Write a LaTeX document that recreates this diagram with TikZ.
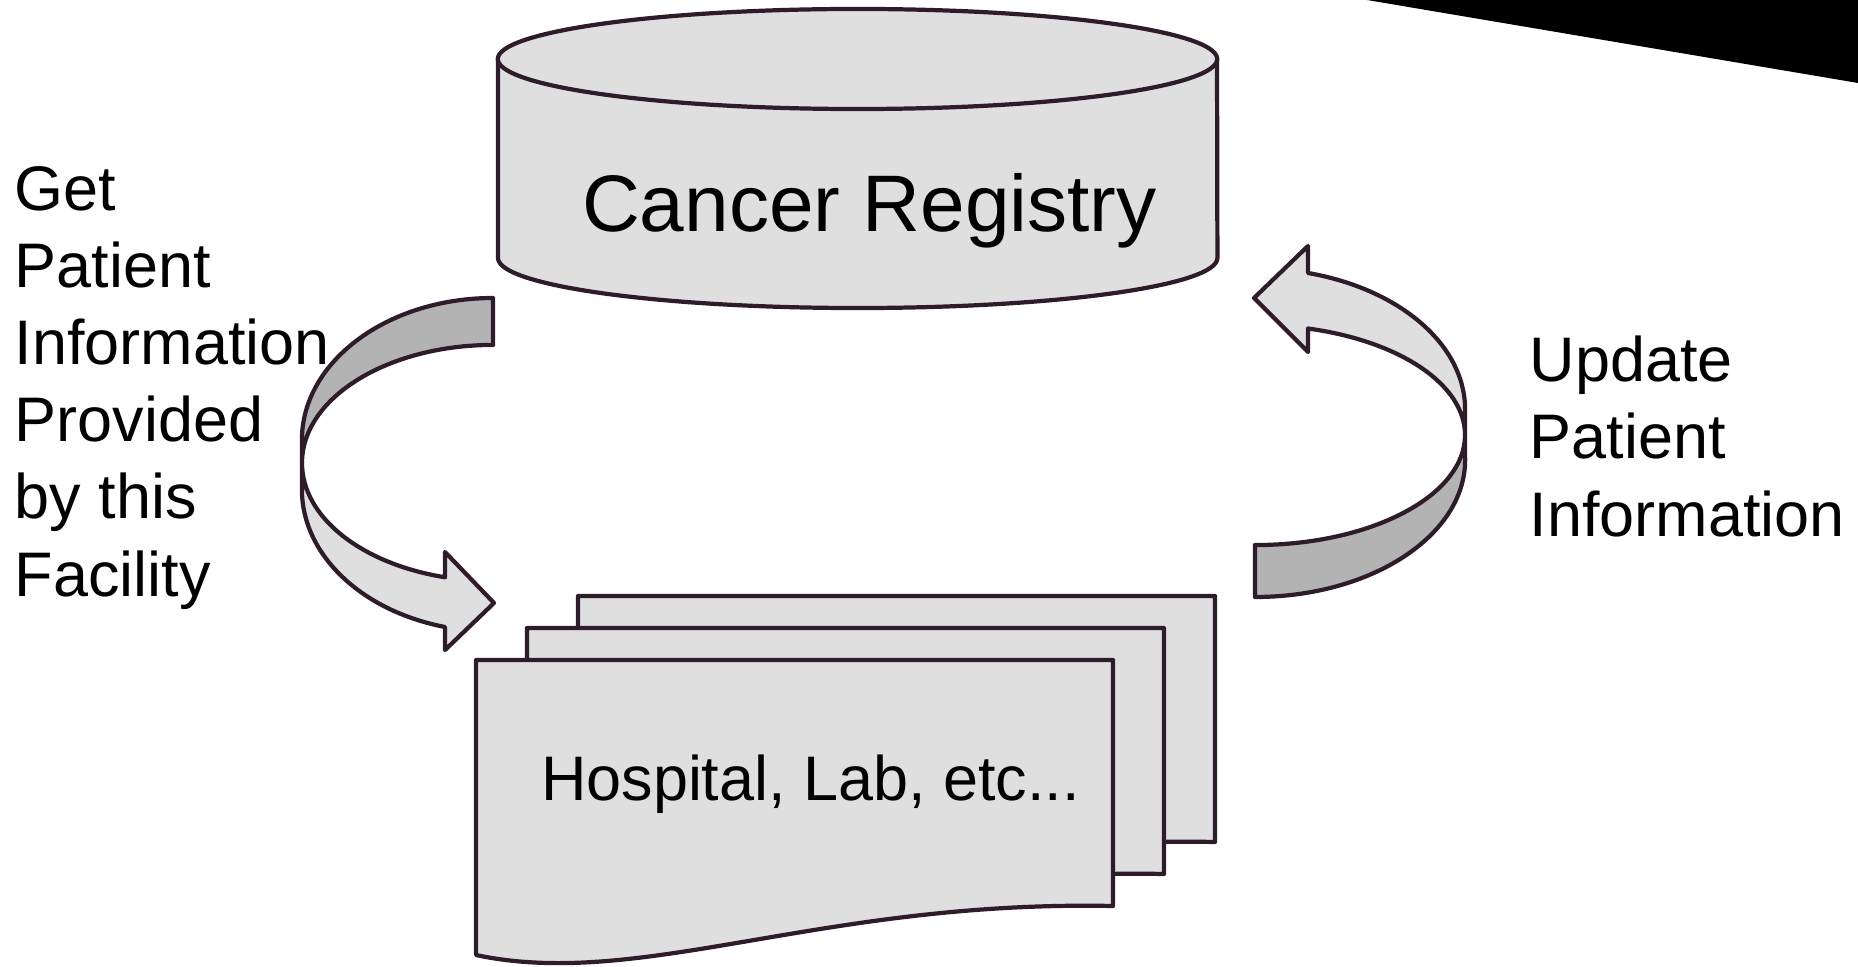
\documentclass[tikz,border=0pt]{standalone}
\usepackage{fontspec}
\setmainfont{Liberation Sans}
\definecolor{rim}{RGB}{46,28,43}
\definecolor{paper}{RGB}{223,223,223}
\definecolor{shade}{RGB}{179,179,179}

\begin{document}
\begin{tikzpicture}[x=0.01cm, y=-0.01cm,
    litpart/.style={draw=rim, line width=1.2pt, line join=round, fill=paper},
    dimpart/.style={draw=rim, line width=1.2pt, line join=round, fill=shade},
    txt/.style={inner sep=0pt, font=\fontsize{17.9}{21.9}\selectfont}]
  \useasboundingbox (0,0) rectangle (1858,967);
  \fill (1367,0) -- (1858,83) -- (1858,0) -- cycle;

  % registry drum
  \draw[litpart] (498,59) -- (498,258)
    arc[start angle=180, end angle=360, x radius=3.595cm, y radius=0.5cm] -- (1217,59);
  \draw[litpart] (857.5,59) ellipse[x radius=3.595cm, y radius=0.5cm];
  \node[txt, font=\fontsize{22.8}{27}\selectfont, anchor=base] (registry) at (869.5,232) {Cancer Registry};

  % stack of sheets
  \foreach \dx/\dy in {102/-64, 51/-32, 0/0}
    \draw[litpart] (476+\dx,660+\dy) -- (1113+\dx,660+\dy) -- (1113+\dx,906+\dy)
      .. controls (820+\dx,900+\dy) and (640+\dx,990+\dy) .. (476+\dx,955+\dy) -- cycle;
  \node[txt, anchor=base] (facility) at (810.5,800) {Hospital, Lab, etc...};

  % get arrow
  \draw[dimpart] (493,298) arc[start angle=90, end angle=180, x radius=1.91cm, y radius=1.42cm]
    -- (302,463) arc[start angle=180, end angle=90, x radius=1.91cm, y radius=1.18cm] -- cycle;
  \draw[litpart] (302,463) arc[start angle=180, end angle=255.45, x radius=1.91cm, y radius=1.18cm]
    -- (445,552) -- (494,603) -- (445,650) -- (445,627)
    arc[start angle=255.45, end angle=180, x radius=1.91cm, y radius=1.42cm] -- cycle;

  % update arrow
  \draw[dimpart] (1255,597) arc[start angle=270, end angle=360, x radius=2.1cm, y radius=1.37cm]
    -- (1465,435) arc[start angle=0, end angle=-90, x radius=2.1cm, y radius=1.1cm] -- cycle;
  \draw[litpart] (1465,435) arc[start angle=0, end angle=75.38, x radius=2.1cm, y radius=1.1cm]
    -- (1308,352) -- (1254,298) -- (1308,246) -- (1308,273)
    arc[start angle=75.38, end angle=0, x radius=2.1cm, y radius=1.41cm] -- cycle;

  \node[txt, align=left, anchor=base west] (getinfo) at (14,596)
    {Get\\Patient\\Information\\Provided\\by this\\Facility};
  \node[txt, align=left, anchor=base west] (update) at (1529,536)
    {Update\\Patient\\Information};
\end{tikzpicture}
\end{document}
